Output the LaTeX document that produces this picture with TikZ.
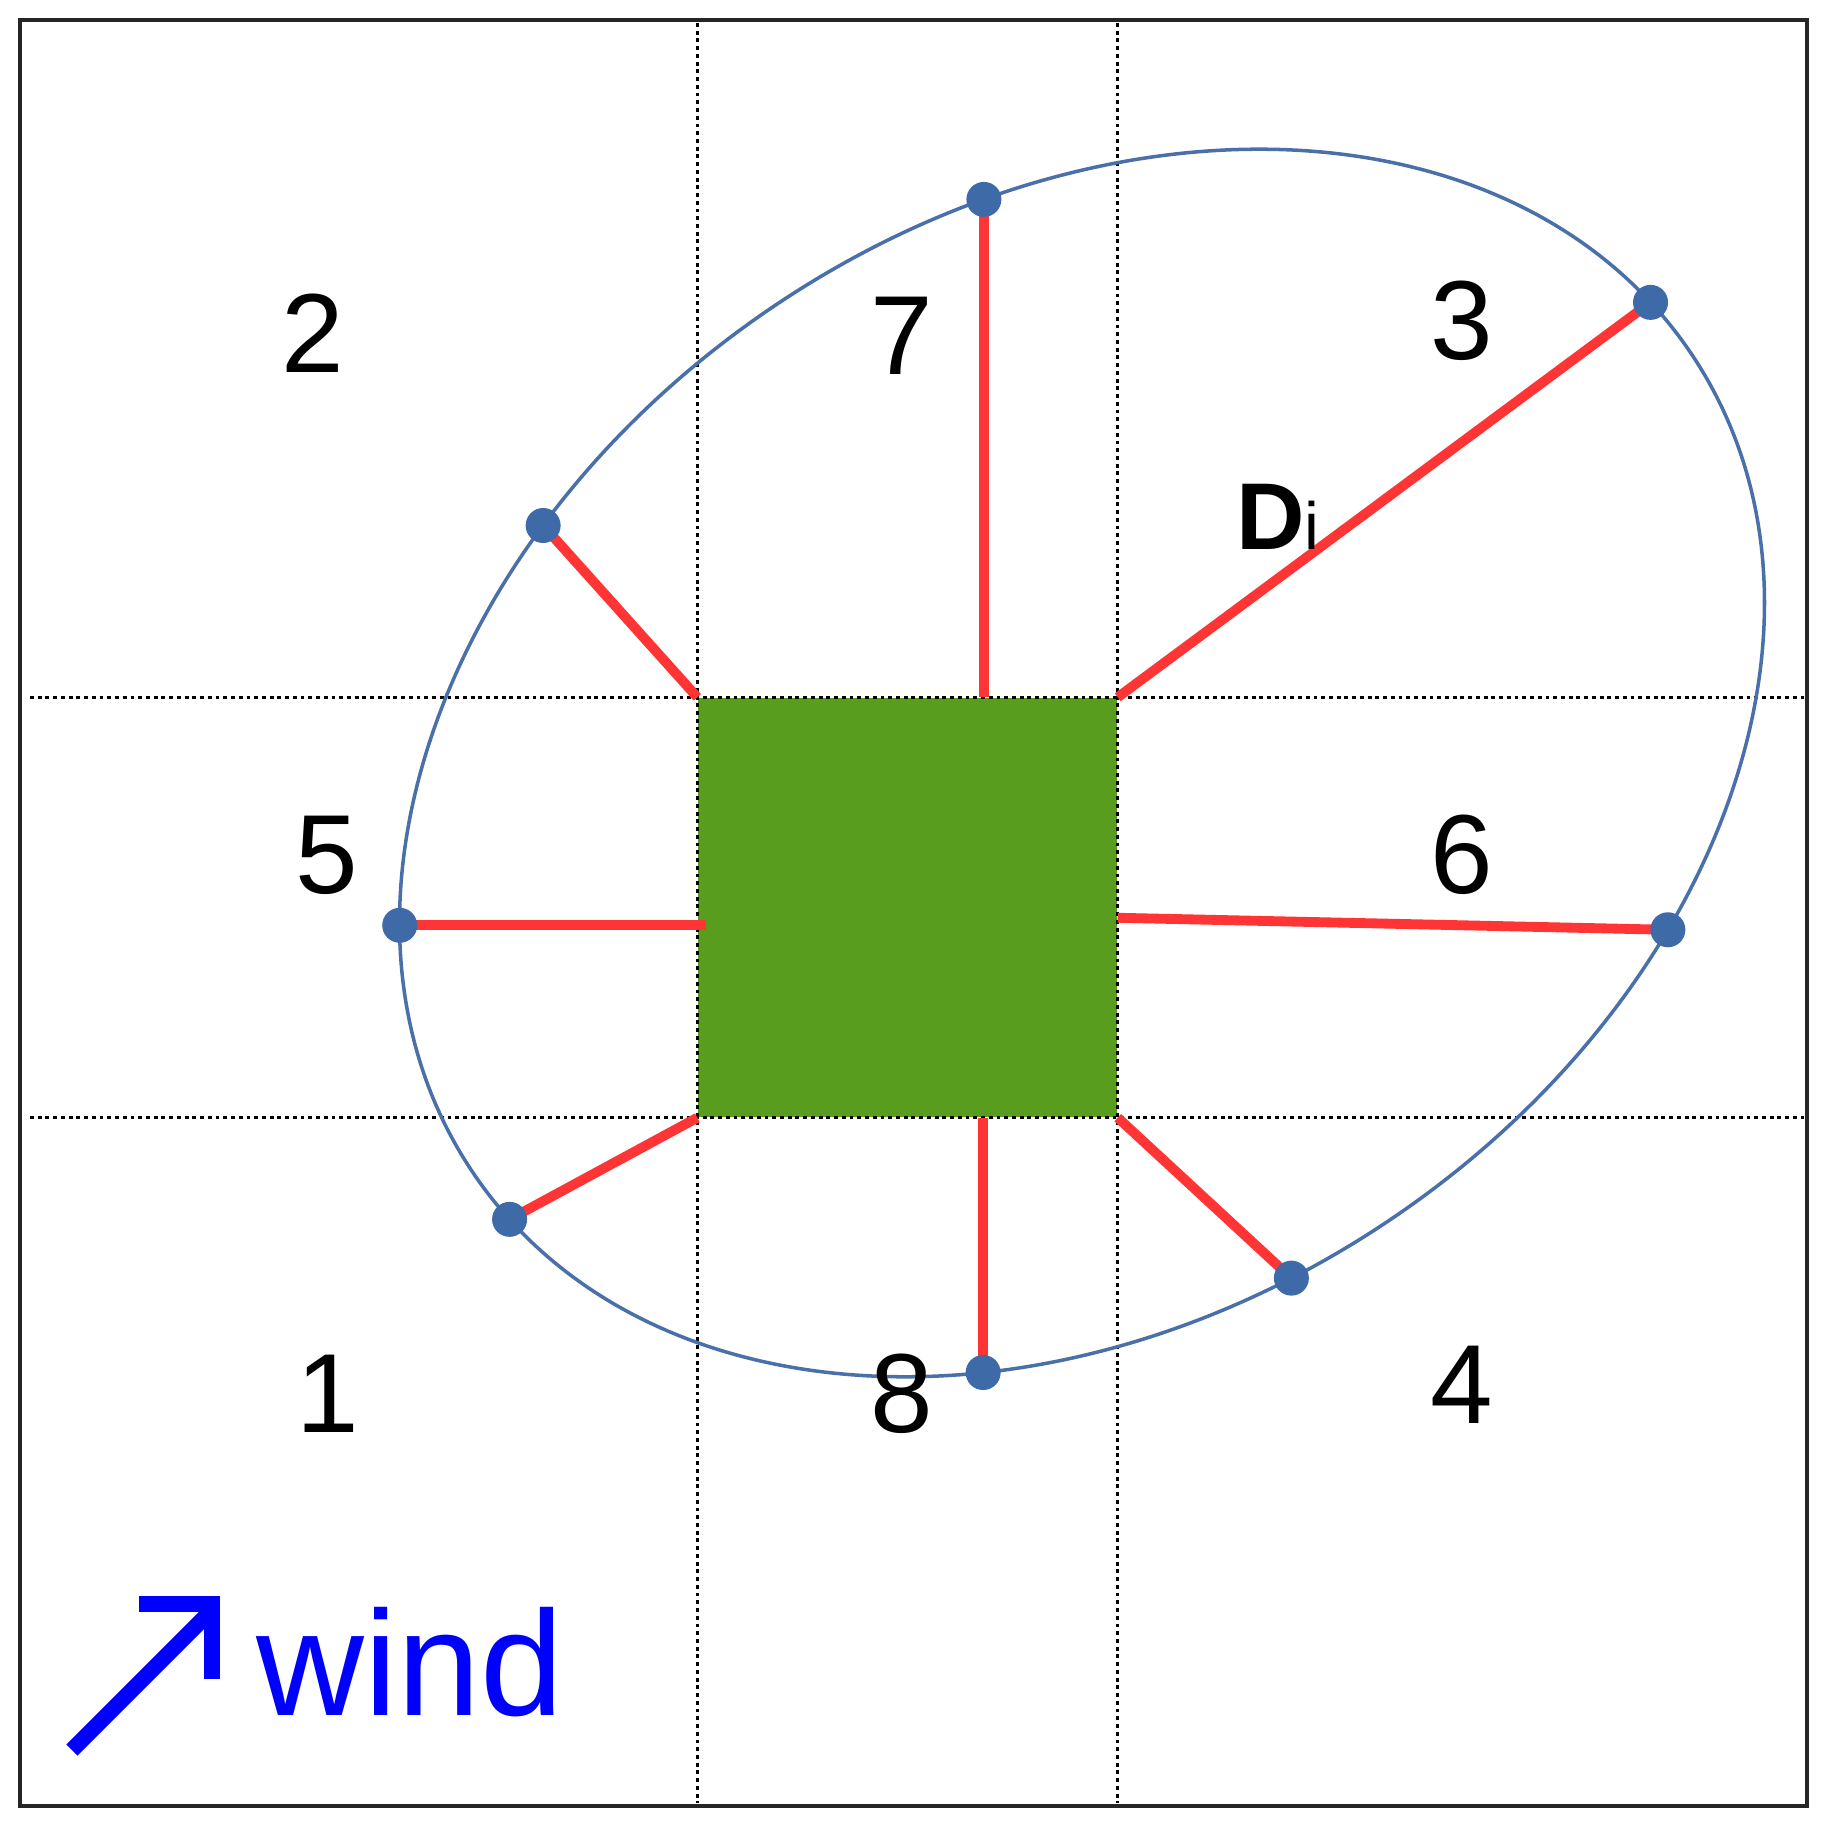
\documentclass[tikz,border=0pt]{standalone}
\usepackage{fontspec}
\setmainfont{Liberation Sans}
\usetikzlibrary{calc}

\definecolor{leaf}{HTML}{589D1E}
\definecolor{rayred}{HTML}{FF3535}
\definecolor{ringblue}{HTML}{4A70AA}
\definecolor{pinblue}{HTML}{3E6AA8}

\tikzset{
  frameline/.style={draw=black!85, line width=1.4pt},
  gridline/.style={black, line width=0.7pt, dash pattern=on 1.1pt off 1.1pt},
  sector/.style={rectangle, fill=leaf, minimum size=4.19cm, inner sep=0pt},
  redline/.style={draw=rayred, line width=2.8pt},
  ringline/.style={draw=ringblue, line width=1pt},
  pindot/.style={circle, fill=pinblue, minimum size=0.35cm, inner sep=0pt},
  num/.style={font=\fontsize{32}{36}\selectfont, inner sep=0pt},
  windline/.style={draw=blue, line width=4.5pt},
}

\begin{document}
\begin{tikzpicture}
\useasboundingbox (0,0) rectangle (18.30,18.26);
\fill[white] (0,0) rectangle (18.30,18.26);

\node[sector] (sq) at (9.075,9.185) {};

\draw[gridline] (sq.north west |- 0,18.03) -- (sq.north west |- 0,0.23);
\draw[gridline] (sq.north east |- 0,18.03) -- (sq.north east |- 0,0.23);
\draw[gridline] (sq.north west -| 0.30,0) -- (sq.north west -| 18.04,0);
\draw[gridline] (sq.south west -| 0.30,0) -- (sq.south west -| 18.04,0);

\draw[frameline] (0.20,0.20) rectangle (18.07,18.06);

\begin{scope}[shift={(10.82,10.63)}, rotate=33.9]
\coordinate (e7) at (71.5:7.34cm and 5.51cm);
\coordinate (e3) at (6.8:7.34cm and 5.51cm);
\coordinate (e6) at (302.4:7.34cm and 5.51cm);
\coordinate (e4) at (261.1:7.34cm and 5.51cm);
\coordinate (e8) at (234.9:7.34cm and 5.51cm);
\coordinate (e1) at (186.2:7.34cm and 5.51cm);
\coordinate (e5) at (153.5:7.34cm and 5.51cm);
\coordinate (e2) at (115.4:7.34cm and 5.51cm);
\end{scope}

\draw[redline] (e7 |- sq.north) -- (e7);
\draw[redline] (sq.north east) -- (e3);
\draw[redline] ([yshift=1.2mm]e6 -| sq.east) -- (e6);
\draw[redline] (sq.south east) -- (e4);
\draw[redline] (e8 |- sq.south) -- (e8);
\draw[redline] (sq.south west) -- (e1);
\draw[redline] ([xshift=0.9mm]e5 -| sq.west) -- (e5);
\draw[redline] (sq.north west) -- (e2);

\draw[ringline] (10.82,10.63) ellipse [x radius=7.34, y radius=5.51, rotate=33.9];

\node[pindot] (p7) at (e7) {};
\node[pindot] (p3) at (e3) {};
\node[pindot] (p6) at (e6) {};
\node[pindot] (p4) at (e4) {};
\node[pindot] (p8) at (e8) {};
\node[pindot] (p1) at (e1) {};
\node[pindot] (p5) at (e5) {};
\node[pindot] (p2) at (e2) {};

\node[num] (n2) at (3.13,14.93) {2};
\node[num] (n7) at (9.02,14.90) {7};
\node[num] (n3) at (14.62,15.05) {3};
\node[num] (n5) at (3.27,9.71) {5};
\node[num] (n6) at (14.62,9.71) {6};
\node[num] (n1) at (3.28,4.32) {1};
\node[num] (n8) at (9.02,4.32) {8};
\node[num] (n4) at (14.62,4.41) {4};

\node[anchor=base, inner sep=0pt] (di) at (12.78,12.76)
  {\fontsize{27}{30}\selectfont\bfseries D\fontsize{19}{21}\selectfont\mdseries i};

\coordinate (wtail) at (0.72,0.76);
\coordinate (wtip) at (2.12,2.22);
\draw[windline] (wtail) -- (2.10,2.14);
\draw[windline, line join=miter] (1.39,2.22) -- (wtip) -- (2.12,1.47);
\node[anchor=base west, inner sep=0pt, text=blue, font=\fontsize{42.5}{46}\selectfont] (wind) at (2.56,1.11) {wind};
\end{tikzpicture}
\end{document}
